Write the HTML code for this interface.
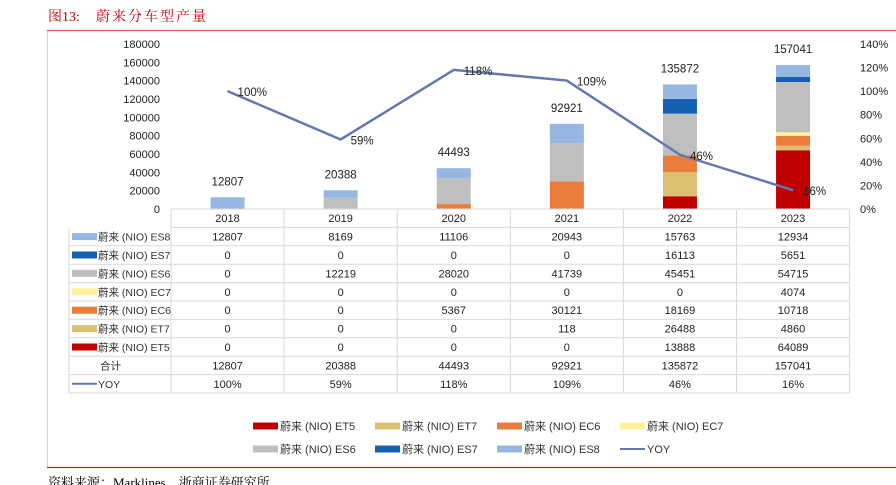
<!DOCTYPE html>
<html><head><meta charset="utf-8"><style>
body{margin:0;background:#fff;width:896px;height:485px;overflow:hidden;font-family:"Liberation Sans","Noto Sans CJK SC",sans-serif;}
svg{display:block}
</style></head><body>
<svg id="c" width="896" height="485" xmlns="http://www.w3.org/2000/svg">
<text x="48" y="21" font-family="'Liberation Serif','Noto Serif CJK SC',serif" font-size="14" fill="#C00000">图13:<tspan x="96" letter-spacing="2">蔚来分车型产量</tspan></text>
<line x1="47" y1="30.5" x2="896" y2="30.5" stroke="#E06060" stroke-width="1.2"/>
<line x1="47.5" y1="31" x2="47.5" y2="467" stroke="#D0D0D0"/>
<line x1="47" y1="467.5" x2="896" y2="467.5" stroke="#D02020" stroke-width="1.2"/>
<text x="48" y="487" font-family="'Liberation Serif','Noto Serif CJK SC',serif" font-size="13" fill="#000">资料来源：Marklines，浙商证券研究所</text>
<g id="plot"></g>
</svg>
<script>
const years=['2018','2019','2020','2021','2022','2023'];
const seriesNames=['蔚来 (NIO) ES8','蔚来 (NIO) ES7','蔚来 (NIO) ES6','蔚来 (NIO) EC7','蔚来 (NIO) EC6','蔚来 (NIO) ET7','蔚来 (NIO) ET5'];
const es8=[12807,8169,11106,20943,15763,12934];
const es7=[0,0,0,0,16113,5651];
const es6=[0,12219,28020,41739,45451,54715];
const ec7=[0,0,0,0,0,4074];
const ec6=[0,0,5367,30121,18169,10718];
const et7=[0,0,0,118,26488,4860];
const et5=[0,0,0,0,13888,64089];
const totals=[12807,20388,44493,92921,135872,157041];
const yoy=[100,59,118,109,46,16];
const yTicks=[0,20000,40000,60000,80000,100000,120000,140000,160000,180000];
const y2Ticks=[0,20,40,60,80,100,120,140];

const NS='http://www.w3.org/2000/svg';
const g=document.getElementById('plot');
function el(t,a,txt){const e=document.createElementNS(NS,t);for(const k in a)e.setAttribute(k,a[k]);if(txt!==undefined)e.textContent=txt;g.appendChild(e);return e;}
const x0=171,colW=113.1,y0=209,yTop=44;
const xC=i=>x0+colW*(i+0.5);
const yV=v=>y0-(v/180000)*(y0-yTop);
const yP=p=>y0-(p/140)*(y0-yTop);
const colors={'蔚来 (NIO) ES8':'#95B7E1','蔚来 (NIO) ES7':'#1560B0','蔚来 (NIO) ES6':'#BFBFBF','蔚来 (NIO) EC7':'#FFF29A','蔚来 (NIO) EC6':'#EB7D3C','蔚来 (NIO) ET7':'#DCC072','蔚来 (NIO) ET5':'#C00000'};
const data=[es8,es7,es6,ec7,ec6,et7,et5];
yTicks.forEach(v=>{const t=el('text',{x:160,y:yV(v)+4,'text-anchor':'end','font-size':11,fill:'#222'},v);
});
y2Ticks.forEach(v=>{const t=el('text',{x:860,y:yP(v)+4,'font-size':11,fill:'#222'},v+'%');
});
const order=[6,5,4,3,2,1,0];
years.forEach((yr,i)=>{let acc=0;order.forEach(s=>{const v=data[s][i];if(v>0){const r=el('rect',{x:xC(i)-17,y:yV(acc+v),width:34,height:yV(acc)-yV(acc+v),fill:colors[seriesNames[s]]});
}acc+=v;});
const t=el('text',{x:xC(i),y:yV(totals[i])-12,'text-anchor':'middle','font-size':11.5,fill:'#222'},totals[i]);
});
const pts=yoy.map((p,i)=>xC(i)+','+yP(p)).join(' ');
const pl=el('polyline',{points:pts,fill:'none',stroke:'#6478AF','stroke-width':2.5});

yoy.forEach((p,i)=>{const t=el('text',{x:xC(i)+10,y:yP(p)+5,'font-size':11.5,fill:'#222'},p+'%');
});
const tL=69,hTop=209,rH=18.4;
const rows=[...seriesNames,'合计','YOY'];
const rowVals=[...data,totals,yoy.map(p=>p+'%')];
const nRows=rows.length;
const bottom=hTop+rH*(nRows+1);
const gs='#D9D9D9';
el('line',{x1:x0,y1:hTop,x2:x0+colW*6,y2:hTop,stroke:gs});
for(let r=1;r<=nRows+1;r++){el('line',{x1:r===1?x0:tL,y1:hTop+rH*r,x2:x0+colW*6,y2:hTop+rH*r,stroke:gs});}
el('line',{x1:tL,y1:hTop+rH,x2:tL,y2:bottom,stroke:gs});
for(let c=0;c<=6;c++)el('line',{x1:x0+colW*c,y1:hTop,x2:x0+colW*c,y2:bottom,stroke:gs});
years.forEach((yr,i)=>{const t=el('text',{x:xC(i),y:hTop+13,'text-anchor':'middle','font-size':11,fill:'#222'},yr);
});
rows.forEach((name,r)=>{const cy=hTop+rH*(r+1)+rH/2;
if(r<7){const s=el('rect',{x:72,y:cy-3.5,width:25,height:7,fill:colors[name]});}
else if(r===8){el('line',{x1:72,y1:cy,x2:97,y2:cy,stroke:'#6478AF','stroke-width':2});}
const t=el('text',{x:r===7?100:98,y:cy+4,'font-size':10.5,fill:'#333'},name);

rowVals[r].forEach((v,i)=>{const c=el('text',{x:xC(i),y:cy+4,'text-anchor':'middle','font-size':11,fill:'#222'},v);
});});
const leg=[[6,253,426],[5,375,426],[4,497,426],[3,620,426],[2,253,449],[1,375,449],[0,497,449]];
leg.forEach(([s,lx,ly])=>{const r=el('rect',{x:lx,y:ly-3.5,width:25,height:7,fill:colors[seriesNames[s]]});

const t=el('text',{x:lx+27,y:ly+4,'font-size':11,fill:'#333'},seriesNames[s]);
});
el('line',{x1:620,y1:449,x2:645,y2:449,stroke:'#6478AF','stroke-width':2});
const ty=el('text',{x:647,y:453,'font-size':11,fill:'#333'},'YOY');

</script>
</body></html>
